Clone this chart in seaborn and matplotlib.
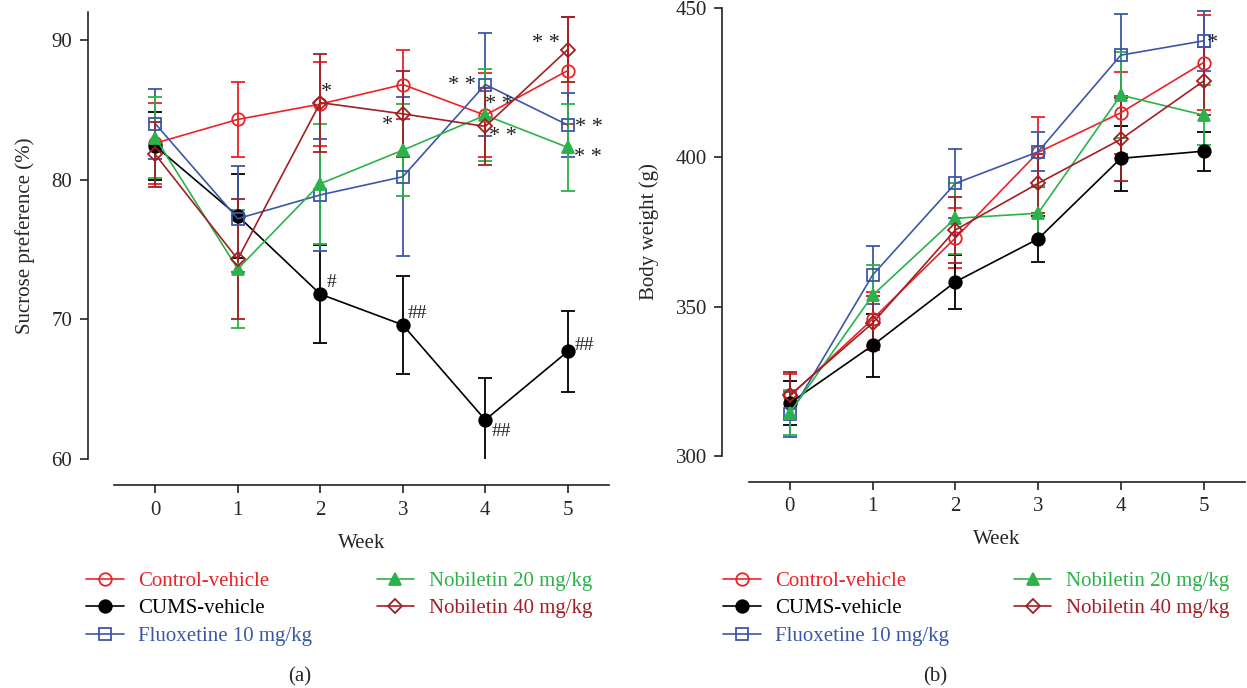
import matplotlib
matplotlib.use("Agg")
import matplotlib.pyplot as plt
import seaborn as sns

# Data
weeks = [0, 1, 2, 3, 4, 5]
groups = ["Control-vehicle", "CUMS-vehicle", "Fluoxetine 10 mg/kg",
          "Nobiletin 20 mg/kg", "Nobiletin 40 mg/kg"]

# (a) sucrose preference (%), mean and error
control_sp = [82.6, 84.3, 85.4, 86.8, 84.6, 87.8]
cums_sp = [82.4, 77.4, 71.8, 69.6, 62.8, 67.7]
fluox_sp = [84.0, 77.2, 78.9, 80.2, 86.8, 83.9]
nob20_sp = [83.0, 73.6, 79.7, 82.1, 84.6, 82.3]
nob40_sp = [81.8, 74.3, 85.5, 84.7, 83.8, 89.3]

control_sp_err = [2.9, 2.7, 3.0, 2.5, 3.0, 3.8]
cums_sp_err = [2.4, 3.0, 3.5, 3.5, 3.0, 2.9]
fluox_sp_err = [2.5, 3.8, 4.0, 5.7, 3.7, 2.3]
nob20_sp_err = [2.9, 4.2, 4.3, 3.3, 3.3, 3.1]
nob40_sp_err = [2.3, 4.3, 3.5, 3.1, 2.75, 2.3]

# (b) body weight (g), mean and error
control_bw = [320.0, 345.8, 373.0, 401.7, 415.0, 431.8]
cums_bw = [317.7, 337.0, 358.3, 372.7, 399.7, 402.1]
fluox_bw = [313.9, 360.6, 391.3, 401.9, 434.3, 439.1]
nob20_bw = [314.4, 353.8, 379.6, 381.3, 420.9, 414.2]
nob40_bw = [320.3, 344.5, 375.7, 391.3, 406.1, 425.6]

control_bw_err = [7.5, 9.0, 10.0, 11.7, 13.7, 16.0]
cums_bw_err = [7.4, 10.5, 9.0, 7.7, 11.0, 6.5]
fluox_bw_err = [7.5, 9.8, 11.5, 6.5, 13.8, 10.0]
nob20_bw_err = [7.5, 10.0, 12.0, 9.0, 14.5, 10.0]
nob40_bw_err = [7.8, 9.0, 11.0, 10.0, 14.0, 11.5]

# significance marks: (week, value, text)
stars_sp = [(2.07, 86.2, "*"), (2.82, 83.9, "*"), (3.72, 86.7, "* *"),
            (4.16, 85.4, "* *"), (4.21, 83.1, "* *"), (4.73, 89.7, "* *"),
            (5.26, 83.7, "* *"), (5.24, 81.6, "* *")]
hashes_sp = [(2.14, 72.6, "#"), (3.18, 70.4, "##"), (4.2, 62.0, "##"),
             (5.2, 68.1, "##")]
stars_bw = [(5.11, 438.3, "*")]

colors = ["#ec2227", "#000000", "#3b57a7", "#2cb24a", "#a21f24"]
markers = ["o", "o", "s", "^", "D"]
filled = [False, True, False, True, False]
msizes = [9, 9, 8, 8.5, 7.5]

sns.set_style("ticks")
plt.rcParams["font.family"] = ["Liberation Serif", "DejaVu Serif"]
plt.rcParams["font.size"] = 15

fig = plt.figure(figsize=(12.47, 6.88), dpi=100)
ax1 = fig.add_axes([0.0914, 0.3328, 0.397, 0.650])
ax2 = fig.add_axes([0.6003, 0.3376, 0.398, 0.6503])


def draw(ax, means, errs):
    for name, vals, err, c, m, f, ms in zip(groups, means, errs, colors,
                                            markers, filled, msizes):
        ax.errorbar(weeks, vals, yerr=err, fmt="none", ecolor=c,
                    elinewidth=1.3, capsize=5, capthick=1.3, zorder=2)
        sns.lineplot(x=weeks, y=vals, ax=ax, color=c, marker=m,
                     markersize=ms, markeredgecolor=c,
                     markerfacecolor=c if f else "none",
                     markeredgewidth=1.3, linewidth=1.2, label=name,
                     legend=False, zorder=3)


draw(ax1, [control_sp, cums_sp, fluox_sp, nob20_sp, nob40_sp],
     [control_sp_err, cums_sp_err, fluox_sp_err, nob20_sp_err, nob40_sp_err])
draw(ax2, [control_bw, cums_bw, fluox_bw, nob20_bw, nob40_bw],
     [control_bw_err, cums_bw_err, fluox_bw_err, nob20_bw_err, nob40_bw_err])

for x, y, t in stars_sp:
    ax1.text(x, y, t, ha="center", va="center", fontsize=16, color="#222222")
for x, y, t in hashes_sp:
    ax1.text(x, y, t, ha="center", va="center", fontsize=14, color="#222222")
for x, y, t in stars_bw:
    ax2.text(x, y, t, ha="center", va="center", fontsize=16, color="#222222")

ax1.set_xlim(-0.5, 5.5)
ax1.set_ylim(60, 92)
ax1.set_yticks([60, 70, 80, 90])
ax1.set_ylabel("Sucrose preference (%)", fontsize=15, labelpad=12)

ax2.set_xlim(-0.5, 5.5)
ax2.set_ylim(300, 450)
ax2.set_yticks([300, 350, 400, 450])
ax2.set_ylabel("Body weight (g)", fontsize=15, labelpad=12)

for ax in (ax1, ax2):
    ax.set_xticks(weeks)
    ax.set_xlabel("Week", fontsize=15, labelpad=10)
    ax.tick_params(axis="both", labelsize=15, length=6, width=1.2, pad=5,
                   color="#222222")
    sns.despine(ax=ax, offset=19)
    for s in ("left", "bottom"):
        ax.spines[s].set_linewidth(1.2)
        ax.spines[s].set_color("#222222")

for ax, x0 in ((ax1, 0.069), (ax2, 0.580)):
    h, l = ax.get_legend_handles_labels()
    fig.legend(h, l, loc="upper left", bbox_to_anchor=(x0, 0.1695), ncol=2,
               frameon=False, fontsize=15, labelcolor="linecolor",
               handlelength=1.8, handletextpad=0.7, columnspacing=3.1,
               labelspacing=0.38, borderpad=0, borderaxespad=0)

fig.text(0.2406, 0.016, "(a)", ha="center", va="center", fontsize=15)
fig.text(0.750, 0.016, "(b)", ha="center", va="center", fontsize=15)

fig.savefig("out.png", dpi=100)
